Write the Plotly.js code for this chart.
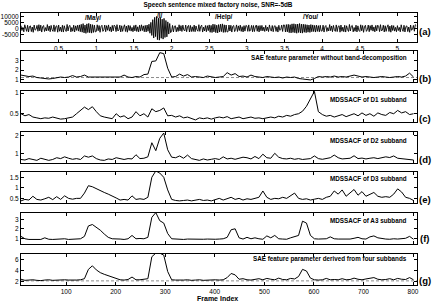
<!DOCTYPE html>
<html>
<head>
<meta charset="utf-8">
<script src="https://cdn.plot.ly/plotly-3.0.1.min.js"></script>
<style>html,body{margin:0;padding:0;background:#fff;}#chart{width:435px;height:301px;}</style>
</head>
<body>
<div id="chart"></div>
<script>
// ---- data ----
// (a) noisy speech waveform, one sample every 0.0125 s starting at 0 s
const waveAmp = [
2400,-1800,900,-2900,3100,-600,-2500,2700,-3000,1600,2200,-2700,1200,-3300,2900,-1500,-800,2600,-2400,3200,
-2100,2800,-3100,1400,2500,-2600,700,-2200,3300,-1900,2100,-2800,2600,-1100,-2500,3000,-2700,1700,2300,-3200,
2900,-2400,1100,-2800,2700,-3100,2300,-900,-2600,3400,-2200,1900,2600,-2900,800,-2400,2800,-3000,2200,-1700,
2700,-2300,3000,-2800,3500,-3200,4100,-3800,2900,-4200,3900,-3500,4300,-3700,3600,-4000,3200,-3400,2800,-3000,
-2600,3100,-2000,2500,-3300,1500,2700,-2500,-1200,2900,-2800,2400,-1600,3000,-2300,1300,-2900,2600,-2100,2800,
1900,-2700,3200,-2200,-1400,2800,-3000,2300,-2500,1000,3100,-2600,2000,-3200,2700,-1800,2400,-2300,900,-2800,
2500,-2100,3000,-2600,1400,-2900,2700,-2300,3100,-1800,2200,-2800,2600,-3000,2900,-2400,3600,-4100,5200,-6000,
7500,-8200,9500,-7000,10200,-9600,8800,-10000,9300,-8400,7900,-9100,8600,-7700,6800,-7200,5600,-4800,4200,-3600,
-2400,2600,-3000,1800,2300,-2900,1000,-2500,3100,-2100,2400,-2600,2800,-1300,-2200,2900,-2800,1500,2600,-3000,
2600,-2700,1400,-2600,2900,-2800,2100,-1200,-2400,3200,-2500,1700,2800,-3100,1100,-2200,2500,-2800,2400,-1900,
3000,-3300,2600,-3500,3700,-2900,3400,-3600,2800,-3800,3300,-3100,3600,-2700,3900,-3400,3100,-3300,2900,-3000,
-2800,2900,-2200,2700,-3100,1800,2500,-2700,-1000,3000,-2600,2200,-1800,2800,-2500,1500,-3000,2400,-2300,2600,
2100,-2500,3000,-2400,-1200,2600,-2800,2500,-2700,1200,2900,-2400,2300,-3000,2500,-2000,2600,-2100,1100,-2600,
2600,-2000,1100,-2700,3000,-800,-2300,2500,-2800,1800,2400,-2500,1400,-3100,2700,-1700,-1000,2800,-2600,3000,
2800,-3000,3300,-2900,3500,-3600,3200,-3800,3900,-3400,4000,-3700,3600,-4100,3800,-3500,4200,-3900,3700,-4000,
3600,-3300,3400,-3600,3100,-3200,2900,-3400,3300,-2800,3000,-2700,2600,-3100,2800,-2500,2400,-2900,2700,-2300,
-2100,2800,-3100,1400,2500,-2600,700,-2200,3300,-1900,2100,-2800,2600,-1100,-2500,3000,-2700,1700,2300,-3200,
2900,-2400,1100,-2800,2700,-3100,2300,-900,-2600,3400,-2200,1900,2600,-2900,800,-2400,2800,-3000,2200,-1700,
-2600,3100,-2000,2500,-3300,1500,2700,-2500,-1200,2900,-2800,2400,-1600,3000,-2300,1300,-2900,2600,-2100,2800,
1900,-2700,3200,-2200,-1400,2800,-3000,2300,-2500,1000,3100,-2600,2000,-3200,2700,-1800,2400,-2300,900,-2800,
2400,-1800,900,-2900,3100,-600,-2500,2700,-3000,1600,2200,-2700,1200,-3300,2900,-1500,-800,2600,-2400,3200,
2400];
const waveStart = 0, waveStep = 0.0125;

// (b)-(g) feature curves, one value every 8 frames starting at frame 9
const frameStart = 9, frameStep = 8;
const saeFull = [
1.5,1.45,1.35,1.4,1.25,1.2,1.15,1.1,1.15,1.2,
1.3,1.25,1.3,1.45,1.3,1.35,1.5,1.3,1.3,1.25,
1.3,1.3,1.25,1.3,1.25,1.3,1.5,1.3,1.25,1.35,
1.3,1.55,1.6,2.9,2.95,3.8,3.7,2.2,1.3,1.35,
1.6,1.4,1.55,1.3,1.35,1.3,1.25,1.4,1.3,1.25,
1.3,1.35,1.75,1.5,1.65,1.35,1.4,1.3,1.5,1.35,
1.3,1.25,1.35,1.3,1.25,1.3,1.2,1.3,1.25,1.3,
1.15,1.1,1.05,1.0,1.15,1.35,1.3,1.35,1.3,1.4,
1.3,1.35,1.3,1.4,1.5,1.4,1.3,1.35,1.3,1.25,
1.3,1.35,1.3,1.25,1.3,1.35,1.3,1.4,1.7,1.3];
const d1 = [
0.5,0.45,0.48,0.42,0.4,0.38,0.4,0.39,0.42,0.4,
0.37,0.38,0.4,0.42,0.5,0.58,0.66,0.6,0.67,0.55,
0.45,0.42,0.4,0.38,0.5,0.42,0.45,0.38,0.42,0.55,
0.45,0.5,0.42,0.62,0.55,0.58,0.64,0.45,0.46,0.42,
0.45,0.4,0.42,0.38,0.35,0.4,0.38,0.4,0.37,0.4,
0.42,0.4,0.43,0.38,0.4,0.42,0.38,0.4,0.42,0.39,
0.4,0.38,0.4,0.42,0.4,0.44,0.42,0.46,0.44,0.48,
0.5,0.56,0.68,0.85,1.04,0.55,0.48,0.44,0.46,0.42,
0.45,0.48,0.43,0.47,0.5,0.45,0.52,0.46,0.5,0.44,
0.52,0.48,0.46,0.53,0.5,0.58,0.52,0.55,0.48,0.5];
const d2 = [
0.65,0.62,0.7,0.65,0.6,0.72,0.68,0.6,0.65,0.75,
0.7,0.8,0.72,0.66,0.7,0.65,0.85,0.78,0.85,0.7,
0.62,0.6,0.68,0.65,0.75,0.68,0.65,0.7,0.68,0.92,
0.7,0.72,0.8,1.6,1.15,1.85,2.15,1.2,0.78,0.75,
0.85,0.72,0.9,0.7,0.65,0.6,0.68,0.62,0.66,0.7,
0.65,0.8,0.68,0.72,0.66,0.7,0.78,0.75,0.68,0.82,
0.7,0.95,0.75,0.72,1.0,0.78,0.7,0.68,0.72,0.66,
0.7,0.65,0.68,0.7,0.85,0.7,0.66,0.72,0.75,0.9,
0.75,0.68,0.7,0.72,0.86,0.7,0.73,0.68,0.72,0.75,
0.7,0.74,0.8,0.76,0.85,0.72,0.7,0.66,0.68,0.62];
const d3 = [
0.38,0.45,0.42,0.6,0.45,0.42,0.48,0.55,0.44,0.58,
0.45,0.62,0.5,0.46,0.5,0.5,0.75,1.1,1.05,0.95,
0.85,0.78,0.7,0.62,0.52,0.42,0.45,0.42,0.62,0.45,
0.48,0.45,0.55,1.5,1.8,1.7,1.5,0.9,0.45,0.4,
0.38,0.4,0.42,0.38,0.4,0.45,0.4,0.42,0.38,0.44,
0.5,0.42,0.48,0.55,0.45,0.5,0.42,0.48,0.45,0.5,
0.55,0.85,0.55,0.45,0.5,0.48,0.55,0.5,0.62,0.75,
0.5,0.45,0.48,0.42,0.46,0.5,0.45,0.55,0.6,0.85,
0.7,0.9,0.6,0.78,0.92,0.65,0.82,0.6,0.7,0.78,
0.6,0.55,0.58,0.55,0.7,0.95,0.8,0.55,0.5,0.4];
const a3 = [
1.2,0.95,0.88,0.9,0.92,0.88,1.05,0.9,0.88,0.92,
0.9,0.95,0.88,0.9,0.92,0.95,1.2,2.3,2.45,2.15,
1.85,1.45,1.1,0.95,0.9,0.92,0.88,0.95,1.3,0.95,
0.98,0.95,1.1,3.2,3.7,2.85,2.6,1.5,0.95,0.92,
0.9,0.88,0.92,0.9,0.95,0.88,0.9,0.92,0.88,0.9,
0.92,0.95,1.1,1.9,2.0,1.05,0.92,1.1,0.95,1.05,
0.95,0.9,1.25,1.05,1.3,0.95,0.92,0.9,1.05,1.2,
1.3,2.8,2.6,1.3,0.95,0.92,0.9,0.95,1.15,0.95,
0.92,0.9,0.95,0.92,1.0,1.1,0.95,0.92,1.15,1.25,
1.05,0.95,0.92,0.9,0.95,0.92,0.95,1.0,1.2,0.9];
const saeFour = [
2.4,2.2,2.25,2.3,2.2,2.15,2.25,2.3,2.2,2.25,
2.2,2.3,2.25,2.2,2.25,2.3,2.5,4.2,4.85,4.1,
3.6,3.3,3.05,2.9,2.6,2.3,2.25,2.35,2.8,2.3,
2.3,2.35,2.5,6.5,7.15,7.15,6.8,3.8,2.3,2.25,
2.2,2.25,2.3,2.2,2.25,2.3,2.2,2.25,2.2,2.3,
2.25,2.3,2.7,3.45,3.2,2.4,2.5,2.3,2.25,2.4,
2.5,2.3,2.55,2.4,2.3,2.6,2.35,2.3,2.55,2.45,
2.9,4.2,3.9,2.6,2.3,2.25,2.3,2.55,2.3,2.35,
2.3,2.5,2.3,2.35,2.6,2.4,2.3,2.45,2.55,2.7,
2.4,2.3,2.35,2.5,2.3,2.55,2.4,2.35,2.7,2.3];
const threshB = 1.25;
const threshG = 2.1;

// tick values / labels
const secTicks = [0.5,1,1.5,2,2.5,3,3.5,4,4.5,5];
const secTickText = ['0.5','1','1.5','2','2.5','3','3.5','4','4.5','5'];
const frameTicks = [100,200,300,400,500,600,700,800];
const frameTickText = ['100','200','300','400','500','600','700','800'];
const ampTicks = [-5000,0,5000,10000];
const ampTickText = ['-5000','0','5000','10000'];
const ticksB = [1,2,3], ticksBText = ['1','2','3'];
const ticksC = [0.5,1], ticksCText = ['0.5','1'];
const ticksD = [1,2], ticksDText = ['1','2'];
const ticksE = [0.5,1,1.5], ticksEText = ['0.5','1','1.5'];
const ticksF = [1,2,3], ticksFText = ['1','2','3'];
const ticksG = [2,4,6], ticksGText = ['2','4','6'];

const words = ['/May/','/I/','/Help/','/You/'];
const panelTexts = ['SAE feature parameter without band-decomposition','MDSSACF of D1 subband','MDSSACF of D2 subband','MDSSACF of D3 subband','MDSSACF of A3 subband','SAE feature parameter derived from four subbands'];
const panelLabels = ['(a)','(b)','(c)','(d)','(e)','(f)','(g)'];

// ---- layout helpers (pixel geometry) ----
const W = 435, H = 301, ML = 21, MR = 18, MT = 13, MB = 16;
const PW = W - ML - MR, PH = H - MT - MB;
const py = p => (H - MB - p) / PH;   // pixel y -> paper
const px = p => (p - ML) / PW;       // pixel x -> paper
const panelPix = [[13,42],[51,82],[91,122],[132,163],[172,203],[213,244],[254,285]];
const yRanges = [[-11600,13200],[0.79,3.97],[0.3,1.05],[0.45,2.21],[0.28,1.75],[0.4,3.66],[1.35,7.0]];
const yTicks = [[ampTicks,ampTickText],[ticksB,ticksBText],[ticksC,ticksCText],[ticksD,ticksDText],[ticksE,ticksEText],[ticksF,ticksFText],[ticksG,ticksGText]];
const FONT = 'Liberation Sans, Arial, Helvetica, sans-serif';

const traces = [];
traces.push({type:'scatter', mode:'lines', y: waveAmp, x0: waveStart, dx: waveStep,
  xaxis:'x', yaxis:'y', line:{color:'#000', width:0.9}, hoverinfo:'skip'});
const series = [saeFull, d1, d2, d3, a3, saeFour];
series.forEach((s, k) => {
  traces.push({type:'scatter', mode:'lines', y: s, x0: frameStart, dx: frameStep,
    xaxis:'x'+(k+2), yaxis:'y'+(k+2), line:{color:'#000', width:1}, hoverinfo:'skip'});
});

const baseAxis = {
  showline:true, linecolor:'#000', linewidth:1, mirror:'ticks',
  ticks:'inside', ticklen:3, tickwidth:1, tickcolor:'#000',
  showgrid:false, zeroline:false, tickmode:'array',
  tickfont:{family:FONT, size:6.5, color:'#000'}, fixedrange:true
};
const layout = {
  width:W, height:H, margin:{l:ML, r:MR, t:MT, b:MB, pad:0},
  paper_bgcolor:'#fff', plot_bgcolor:'#fff', showlegend:false,
  font:{family:FONT, color:'#000'},
  title:{text:'<b>Speech sentence mixed factory noise, SNR=-5dB</b>', font:{family:FONT, size:6.4, color:'#000'},
    x:218/W, xanchor:'center', xref:'container', y:1-5/H, yanchor:'middle', yref:'container'},
  shapes:[], annotations:[]
};
for (let k = 0; k < 7; k++) {
  const xs = k === 0 ? '' : String(k+1);
  const dom = [py(panelPix[k][1]), py(panelPix[k][0])];
  layout['yaxis'+xs] = Object.assign({}, baseAxis, {
    domain: dom, anchor: 'x'+xs, range: yRanges[k],
    tickvals: yTicks[k][0], ticktext: yTicks[k][1]
  });
  if (k === 0) {
    layout.xaxis = Object.assign({}, baseAxis, {domain:[0,1], anchor:'y', range:[0,5.26],
      tickvals: secTicks, ticktext: secTickText, showticklabels:true});
  } else {
    layout['xaxis'+xs] = Object.assign({}, baseAxis, {domain:[0,1], anchor:'y'+xs, range:[9,808],
      tickvals: frameTicks, ticktext: frameTickText, showticklabels: k === 6});
  }
}
// threshold dashed lines
layout.shapes.push({type:'line', xref:'x2 domain', x0:0, x1:1, yref:'y2', y0:threshB, y1:threshB,
  line:{color:'#8c8c8c', width:1, dash:'3px,2px'}, layer:'below'});
layout.shapes.push({type:'line', xref:'x7 domain', x0:0, x1:1, yref:'y7', y0:threshG, y1:threshG,
  line:{color:'#8c8c8c', width:1, dash:'3px,2px'}, layer:'below'});

// word labels in panel (a)
const wordPix = [[93,17.5],[160,16],[224,17],[310,17]];
words.forEach((w, i) => layout.annotations.push({text:'<b>'+w+'</b>', xref:'paper', yref:'paper',
  x:px(wordPix[i][0]), y:py(wordPix[i][1]), showarrow:false, xanchor:'center', yanchor:'middle',
  font:{family:FONT, size:6.4, color:'#000'}}));
// panel descriptions
const textY = [58, 99, 140, 178, 220, 259];
panelTexts.forEach((t, i) => layout.annotations.push({text:'<b>'+t+'</b>', xref:'paper', yref:'paper',
  x:px(409), y:py(textY[i]), showarrow:false, xanchor:'right', yanchor:'middle',
  font:{family:FONT, size:6.3, color:'#000'}}));
// panel letters
const labelY = [32, 78, 119, 159, 199, 239, 280];
panelLabels.forEach((t, i) => layout.annotations.push({text:'<b>'+t+'</b>', xref:'paper', yref:'paper',
  x:px(425), y:py(labelY[i]), showarrow:false, xanchor:'center', yanchor:'middle',
  font:{family:FONT, size:9.5, color:'#000'}}));
// x axis title
layout.annotations.push({text:'<b>Frame Index</b>', xref:'paper', yref:'paper', x:px(217), y:py(298),
  showarrow:false, xanchor:'center', yanchor:'middle', font:{family:FONT, size:7, color:'#000'}});

Plotly.newPlot('chart', traces, layout, {staticPlot:true, displayModeBar:false});
</script>
</body>
</html>
